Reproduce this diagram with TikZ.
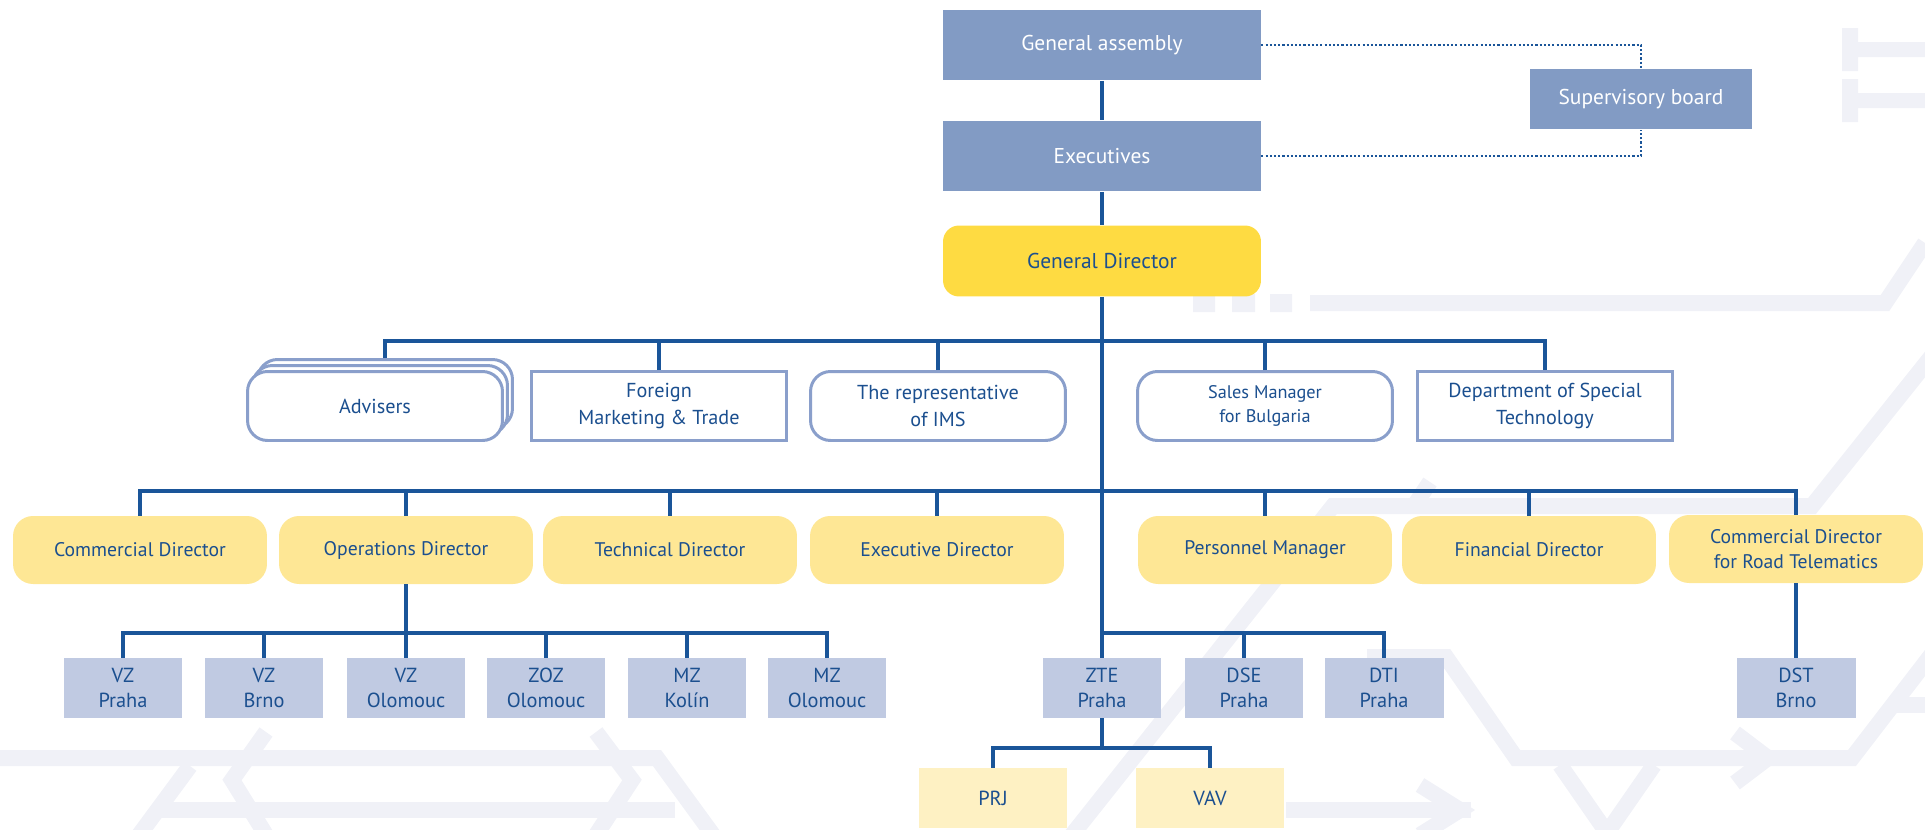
\documentclass[tikz,border=0pt]{standalone}
\usepackage{fontspec}
\setmainfont{PT Sans}
\usepackage{xcolor}
\definecolor{boardblue}{HTML}{829BC4}
\definecolor{gdyellow}{HTML}{FEDB42}
\definecolor{diryellow}{HTML}{FEE795}
\definecolor{unitblue}{HTML}{C0CAE2}
\definecolor{subyellow}{HTML}{FEF1C3}
\definecolor{lineblue}{HTML}{1A5599}
\definecolor{edgeblue}{HTML}{8A9FCB}
\definecolor{textblue}{HTML}{1B4F8F}
\definecolor{railgrey}{HTML}{F0F1F7}

\begin{document}
\begin{tikzpicture}[x=0.02cm, y=-0.02cm,
  every node/.style={align=center, inner sep=1pt, text=textblue,
    font=\fontsize{11.2}{14}\selectfont},
  conn/.style={draw=lineblue, line width=1.9pt},
  dotconn/.style={draw=lineblue, line width=1.4pt, dash pattern=on 1.2pt off 1.2pt},
  rail/.style={draw=railgrey, line width=0.32cm},
  board/.style={fill=boardblue, text=white, minimum width=6.36cm, minimum height=1.42cm,
    font=\fontsize{12.2}{14}\selectfont},
  gendir/.style={fill=gdyellow, rounded corners=0.32cm, minimum width=6.36cm, minimum height=1.42cm,
    font=\fontsize{12.2}{14}\selectfont},
  staff/.style={draw=edgeblue, line width=1.7pt, fill=white, minimum width=5.1cm, minimum height=1.38cm,
    font=\fontsize{11.5}{15}\selectfont},
  roundstaff/.style={staff, rounded corners=0.4cm},
  director/.style={fill=diryellow, rounded corners=0.4cm, minimum width=5.08cm, minimum height=1.36cm},
  unit/.style={fill=unitblue, minimum width=2.38cm, minimum height=1.2cm,
    font=\fontsize{11.6}{14}\selectfont},
  subunit/.style={fill=subyellow, minimum width=2.96cm, minimum height=1.2cm,
    font=\fontsize{11.6}{14}\selectfont}
]
\clip (0,0) rectangle (1925,829);
\useasboundingbox (0,0) rectangle (1925,829);

% background rails
\draw[rail] (1310,303) -- (1885,303) -- (1925,243);
\fill[railgrey] (1193,294) rectangle (1215,312) (1232,294) rectangle (1255,312) (1270,294) rectangle (1292,312);
\fill[railgrey] (1842,28) rectangle (1858,71) (1858,42) rectangle (1925,57)
  (1842,79) rectangle (1858,122) (1858,93) rectangle (1925,108);
\draw[rail] (1935,352) -- (1812,506) -- (1333,506) -- (1060,850);
\draw[rail] (1430,482) -- (1414,506);
\draw[rail] (1935,650) -- (1852,758) -- (1516,758) -- (1446,657) -- (1367,657);
\draw[rail] (1890,705) -- (1925,705);
\draw[rail] (1560,765) -- (1612,840) (1654,765) -- (1602,840);
\draw[rail] (1735,733) -- (1768,758) -- (1735,783);
\draw[rail] (1286,810) -- (1471,810);
\draw[rail] (1420,785) -- (1460,810) -- (1420,835);
\draw[rail] (-10,758) -- (657,758) -- (724,850);
\draw[rail] (190,766) -- (128,850);
\draw[rail] (160,810) -- (675,810);
\draw[rail] (266,732) -- (232,780) -- (266,835);
\draw[rail] (596,732) -- (632,780) -- (596,835);

% board level
\node[board] (ga) at (1102,45) {General assembly};
\node[board] (ex) at (1102,156) {Executives};
\node[board, minimum width=4.46cm, minimum height=1.22cm] (sb) at (1641,99) {Supervisory board};
\node[gendir] (gd) at (1102,261) {General Director};

% staff
\node[roundstaff] (adv3) at (385,394) {};
\node[roundstaff] (adv2) at (380,400) {};
\node[roundstaff] (adv) at (375,406) {Advisers};
\node[staff] (fmt) at (659,406) {Foreign\\Marketing \& Trade};
\node[roundstaff] (ims) at (938,406) {The representative\\of IMS};
\node[roundstaff, font=\fontsize{10.4}{14}\selectfont] (smb) at (1265,406) {Sales Manager\\for Bulgaria};
\node[staff] (dost) at (1545,406) {Department of Special\\Technology};

% directors
\node[director] (comd) at (140,550) {Commercial Director};
\node[director] (ops) at (406,550) {Operations Director};
\node[director] (tech) at (670,550) {Technical Director};
\node[director] (exd) at (937,550) {Executive Director};
\node[director] (pers) at (1265,550) {Personnel Manager};
\node[director] (fin) at (1529,550) {Financial Director};
\node[director] (cdrt) at (1796,549) {Commercial Director\\for Road Telematics};

% units
\node[unit] (vzp) at (123,688) {VZ\\Praha};
\node[unit] (vzb) at (264,688) {VZ\\Brno};
\node[unit] (vzo) at (406,688) {VZ\\Olomouc};
\node[unit] (zoz) at (546,688) {ZOZ\\Olomouc};
\node[unit] (mzk) at (687,688) {MZ\\Kolín};
\node[unit] (mzo) at (827,688) {MZ\\Olomouc};
\node[unit] (zte) at (1102,688) {ZTE\\Praha};
\node[unit] (dse) at (1244,688) {DSE\\Praha};
\node[unit] (dti) at (1384,688) {DTI\\Praha};
\node[unit] (dst) at (1796,688) {DST\\Brno};
\node[subunit] (prj) at (993,798) {PRJ};
\node[subunit] (vav) at (1210,798) {VAV};

\coordinate (b1) at (0,341);
\coordinate (b2) at (0,491);
\coordinate (b3) at (0,633);
\coordinate (b4) at (0,748);

\draw[conn] (ga) -- (ex);
\draw[conn] (ex) -- (gd);
\draw[conn] (gd.south) -- (zte.north);
\draw[dotconn] (ga.east) -| (sb.north);
\draw[dotconn] (ex.east) -| (sb.south);

\draw[conn] (adv3.north) |- (dost.north |- b1) -- (dost.north);
\foreach \n in {fmt,ims,smb}
  \draw[conn] (\n.north) -- (\n.north |- b1);

\draw[conn] (comd.north) |- (cdrt.north |- b2) -- (cdrt.north);
\foreach \n in {ops,tech,exd,pers,fin}
  \draw[conn] (\n.north) -- (\n.north |- b2);

\draw[conn] (ops.south) -- (vzo.north);
\draw[conn] (vzp.north) |- (mzo.north |- b3) -- (mzo.north);
\foreach \n in {vzb,zoz,mzk}
  \draw[conn] (\n.north) -- (\n.north |- b3);

\draw[conn] (zte.north |- b3) -| (dti.north);
\draw[conn] (dse.north) -- (dse.north |- b3);
\draw[conn] (cdrt.south) -- (dst.north);

\draw[conn] (zte.south) -- (zte.south |- b4);
\draw[conn] (prj.north) |- (vav.north |- b4) -- (vav.north);
\end{tikzpicture}
\end{document}
